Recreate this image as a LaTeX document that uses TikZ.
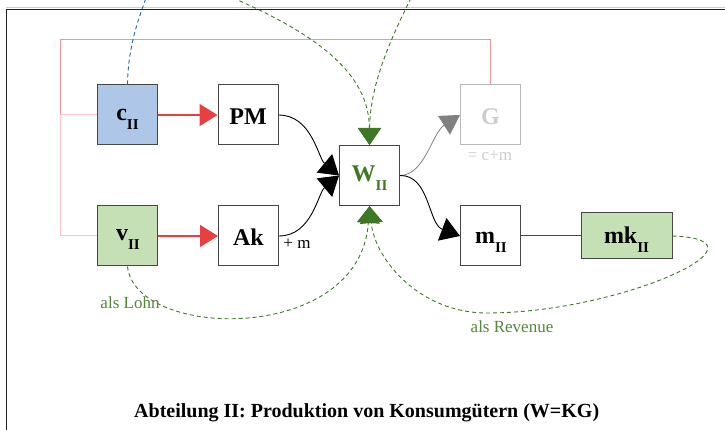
\documentclass[tikz,border=0pt]{standalone}
\usepackage{fontspec}
\setmainfont{Liberation Serif}
\usetikzlibrary{arrows.meta}

\definecolor{cfill}{RGB}{174,198,232}
\definecolor{vfill}{RGB}{197,224,180}
\definecolor{boxline}{RGB}{70,70,70}
\definecolor{flowred}{RGB}{232,64,64}
\definecolor{darkgreen}{RGB}{62,120,38}
\definecolor{labelgreen}{RGB}{84,135,58}
\definecolor{dashblue}{RGB}{40,100,170}
\definecolor{pinkA}{RGB}{240,150,155}
\definecolor{pinkB}{RGB}{255,200,200}
\definecolor{ghost}{RGB}{205,205,205}
\definecolor{ghostline}{RGB}{185,185,185}

% lowered Roman-numeral index
\newcommand{\lowidx}{\raisebox{-9pt}{\fontsize{15}{15}\selectfont\bfseries II}}

\begin{document}
\begin{tikzpicture}[x=1pt,y=-1pt,
  box/.style={draw=boxline, line width=1pt, minimum width=60pt, minimum height=60pt, inner sep=0pt},
  boxtext/.style={anchor=base, font=\fontsize{24}{24}\selectfont\bfseries},
  smalltext/.style={anchor=base, font=\fontsize{17}{17}\selectfont},
  redflow/.style={flowred, line width=1.2pt, -{Triangle[length=18pt,width=22pt]}},
  blackflow/.style={black, line width=0.9pt, -{Triangle[length=19pt,width=24pt]}},
  grayflow/.style={gray, line width=0.8pt, -{Triangle[length=19pt,width=22pt,fill=gray]}},
  gdash/.style={darkgreen, line width=0.9pt, dash pattern=on 4pt off 3pt},
  greentip/.style={-{Triangle[length=17pt,width=23pt,fill=darkgreen]}},
]
\useasboundingbox (0,0) rectangle (725,430);
\begin{scope}
\clip (0,0) rectangle (725,430);

% frame
\draw[ghost, line width=1pt] (6,7.8) -- (740,7.8);
\draw[black!88, line width=1.3pt] (6.5,450) |- (740,9.5);

% boxes
\node[box, fill=cfill] (c) at (127.5,115) {};
\node[box, fill=white] (pm) at (248,115) {};
\node[box, fill=vfill] (v) at (127.5,236) {};
\node[box, fill=white] (ak) at (248.5,236) {};
\node[box, fill=white] (w) at (369.5,175.5) {};
\node[box, fill=white, draw=ghostline] (g) at (490.5,115) {};
\node[box, fill=white] (m) at (490.5,236) {};
\node[box, fill=vfill, minimum width=91pt, minimum height=46pt] (mk) at (626.5,236) {};

% box texts
\node[boxtext] (cT) at (127.5,121) {c\lowidx};
\node[boxtext] (pmT) at (248,125) {PM};
\node[boxtext] (vT) at (128,241) {v\lowidx};
\node[boxtext] (akT) at (248.5,246) {Ak};
\node[boxtext, text=darkgreen] (wT) at (369.5,182) {W\lowidx};
\node[boxtext, text=ghost] (gT) at (490.5,125) {G};
\node[boxtext] (mT) at (491,243.3) {m\lowidx};
\node[boxtext] (mkT) at (626.5,243.3) {mk\lowidx};

% pink return line from G
\coordinate (tl) at (60,39.5);
\coordinate (cl) at (60,115);
\coordinate (vl) at (60,236);
\draw[pinkA, line width=1pt] (g.north) |- (tl) -- (cl);
\draw[pinkB, line width=1pt] (cl) -- (c.west);
\draw[pinkB, line width=1pt] (cl) -- (vl) -- (v.west);

% flows
\draw[redflow] (c) -- (pm);
\draw[redflow] (v) -- (ak);
\draw[blackflow] (pm.east) .. controls (312,115) and (318,158) .. (w.west);
\draw[blackflow] (ak.east) .. controls (312,236) and (318,193) .. (w.west);
\draw[grayflow] (w.east) .. controls (425,175) and (432,133) .. (g.west);
\draw[blackflow] (w.east) .. controls (430,175) and (428,224) .. (m.west);
\draw[boxline, line width=1pt] (m) -- (mk);

% dashed links
\coordinate (blueTop) at (146,-2);
\coordinate (gTopA) at (233,-2);
\coordinate (gTopB) at (411,-2);
\coordinate (revLow) at (487,313);
\draw[dashblue, line width=0.9pt, dash pattern=on 4pt off 3pt] (c.north) .. controls (128,45) and (140,15) .. (blueTop);
\draw[gdash, greentip] (gTopA) .. controls (330,40) and (369,80) .. (w.north);
\draw[gdash, greentip] (gTopB) .. controls (385,50) and (370,90) .. (w.north);
\draw[gdash, greentip] (v.south) .. controls (135,340) and (360,345) .. (w.south);
\draw[gdash, greentip] (mk.east) .. controls (780,240) and (620,313) .. (revLow) .. controls (420,313) and (375,260) .. (w.south);

% labels
\node[smalltext, text=labelgreen] (lohn) at (130,308) {als Lohn};
\node[smalltext, text=labelgreen] (rev) at (512,332) {als Revenue};
\node[smalltext] (plusm) at (297,248) {+ m};
\node[smalltext, text=ghost] (gsum) at (490,161) {= c+m};

% title
\node[anchor=base, font=\fontsize{20}{20}\selectfont\bfseries] (title) at (366.7,417) {Abteilung II: Produktion von Konsumgütern (W=KG)};
\end{scope}
\end{tikzpicture}
\end{document}
